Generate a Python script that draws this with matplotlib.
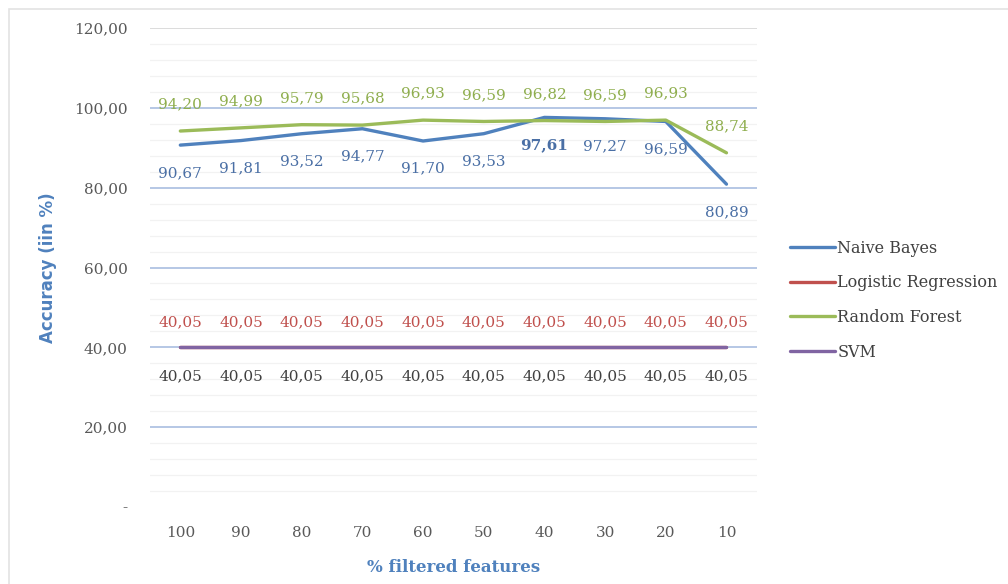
import numpy as np
import matplotlib.pyplot as plt
from matplotlib.ticker import MultipleLocator, FuncFormatter
from matplotlib.patches import Rectangle

# data
features = ["100", "90", "80", "70", "60", "50", "40", "30", "20", "10"]
naive_bayes = [90.67, 91.81, 93.52, 94.77, 91.70, 93.53, 97.61, 97.27, 96.59, 80.89]
logistic_reg = [40.05, 40.05, 40.05, 40.05, 40.05, 40.05, 40.05, 40.05, 40.05, 40.05]
random_forest = [94.20, 94.99, 95.79, 95.68, 96.93, 96.59, 96.82, 96.59, 96.93, 88.74]
svm = [40.05, 40.05, 40.05, 40.05, 40.05, 40.05, 40.05, 40.05, 40.05, 40.05]

plt.rcParams['font.family'] = ['DejaVu Serif']

c_nb = '#4F81BD'
c_lr = '#C0504D'
c_rf = '#9BBB59'
c_svm = '#8064A2'

fig = plt.figure(figsize=(10.08, 5.84), dpi=100)
ax = fig.add_axes([0.1488, 0.1318, 0.602, 0.8202])

# frame around chart
fig.patches.append(Rectangle((0.009, -0.05), 1.1, 1.05 - 0.016, transform=fig.transFigure,
                             fill=False, edgecolor='#e3e3e3', linewidth=1.2))

x = np.arange(len(features))
ax.plot(x, naive_bayes, color=c_nb, lw=2.4, label='Naive Bayes', solid_capstyle='round')
ax.plot(x, logistic_reg, color=c_lr, lw=2.4, label='Logistic Regression', solid_capstyle='round')
ax.plot(x, random_forest, color=c_rf, lw=2.4, label='Random Forest', solid_capstyle='round')
ax.plot(x, svm, color=c_svm, lw=2.4, label='SVM', solid_capstyle='round')

def fmt(v):
    return f"{v:.2f}".replace('.', ',')

def labels(vals, color, dy, bold_idx=None):
    for i, v in enumerate(vals):
        ax.annotate(fmt(v), (x[i], v), xytext=(0, dy), textcoords='offset points',
                    ha='center', va='center', fontsize=11, color=color,
                    fontweight='bold' if i == bold_idx else 'normal')

labels(naive_bayes, '#4a6fa5', -20, bold_idx=int(np.argmax(naive_bayes)))
labels(random_forest, '#8fae4e', 19)
labels(logistic_reg, '#c0504d', 18)
labels(svm, '#404040', -21)

ax.set_xlim(-0.5, len(features) - 0.5)
ax.set_ylim(0, 120)
ax.set_xticks(x)
ax.set_xticklabels(features)
ax.yaxis.set_major_locator(MultipleLocator(20))
ax.yaxis.set_minor_locator(MultipleLocator(4))
ax.yaxis.set_major_formatter(FuncFormatter(lambda v, p: '-' if v == 0 else fmt(v)))

ax.grid(axis='y', which='minor', color='#f2f2f2', lw=0.9)
ax.grid(axis='y', which='major', color='#a9bde0', lw=1.2)
ax.set_axisbelow(True)
for gl, t in zip(ax.get_ygridlines(), ax.get_yticks()):
    if t >= 120 or t == 0:
        gl.set_color('#d6d6d6')
    if t == 0:
        gl.set_visible(False)

for s in ax.spines.values():
    s.set_visible(False)
ax.tick_params(axis='both', which='both', length=0, labelsize=11, colors='#595959')
ax.tick_params(axis='y', pad=16)
ax.tick_params(axis='x', pad=14)

ax.set_ylabel('Accuracy (iin %)', fontsize=12, fontweight='bold', color='#4F81BD',
              family='DejaVu Sans', labelpad=12)
ax.set_xlabel('% filtered features', fontsize=12, fontweight='bold', color='#4F81BD', labelpad=13.5)

fig.legend(loc='center left', bbox_to_anchor=(0.784, 0.486), frameon=False, fontsize=11.5,
           handlelength=2.8, handletextpad=0.15, labelspacing=1.1, borderpad=0,
           borderaxespad=0, labelcolor='#404040')

fig.savefig('out.png', dpi=100)
